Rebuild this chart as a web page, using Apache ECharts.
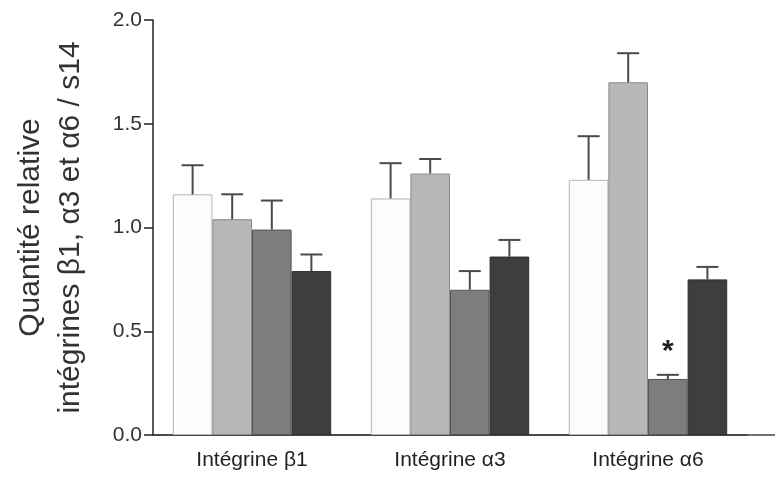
<!DOCTYPE html>
<html>
<head>
<meta charset="utf-8">
<script src="https://cdn.jsdelivr.net/npm/echarts@6/dist/echarts.min.js"></script>
<style>html,body{margin:0;padding:0;background:#fff}#c{width:775px;height:478px}</style>
</head>
<body>
<div id="c"></div>
<script>
const categories = ['Intégrine β1', 'Intégrine α3', 'Intégrine α6'];
const yTicks = [0, 0.5, 1.0, 1.5, 2.0];
// four conditions per category
const s1 = [1.16, 1.14, 1.23];
const s2 = [1.04, 1.26, 1.70];
const s3 = [0.99, 0.70, 0.27];
const s4 = [0.79, 0.86, 0.75];
// top of error bars
const e1 = [1.30, 1.31, 1.44];
const e2 = [1.16, 1.33, 1.84];
const e3 = [1.13, 0.79, 0.29];
const e4 = [0.87, 0.94, 0.81];
const significant = [[], [], [2], []]; // '*' marks

const values = [s1, s2, s3, s4];
const errs = [e1, e2, e3, e4];
const fills = ['#fcfcfc', '#b8b8b8', '#7d7d7d', '#3e3e3e'];
const borders = ['#b5b5b5', '#8a8a8a', '#555555', '#2e2e2e'];

const chart = echarts.init(document.getElementById('c'), null, {renderer: 'canvas'});
const series = [];
values.forEach((vals, s) => {
  series.push({
    type: 'bar', xAxisIndex: 0, yAxisIndex: 0,
    barGap: '0%', barCategoryGap: '20%',
    itemStyle: {color: fills[s], borderColor: borders[s], borderWidth: 1},
    data: vals.map((v, i) => significant[s].includes(i)
      ? {value: v, label: {show: true, position: 'top', distance: 12, formatter: '*', fontSize: 30, fontWeight: 'bold', color: '#222', fontFamily: 'Liberation Sans'}}
      : v),
    z: 2
  });
});
values.forEach((vals, s) => {
  series.push({
    type: 'custom', xAxisIndex: 0, yAxisIndex: 0, z: 3,
    data: vals.map((v, i) => [i, v, errs[s][i]]),
    renderItem: function (params, api) {
      const idx = api.value(0), v = api.value(1), t = api.value(2);
      const band = api.size([1, 0])[0];
      const bw = band * 0.8 / 4;
      const off = (s - 1.5) * bw;
      const p0 = api.coord([idx, v]);
      const p1 = api.coord([idx, t]);
      const x = p0[0] + off;
      const st = {stroke: '#4a4a4a', lineWidth: 2};
      return {type: 'group', children: [
        {type: 'line', shape: {x1: x, y1: p0[1], x2: x, y2: p1[1]}, style: st},
        {type: 'line', shape: {x1: x - 11, y1: p1[1], x2: x + 11, y2: p1[1]}, style: st}
      ]};
    }
  });
});
// extension of the baseline to the right edge
series.push({type: 'line', xAxisIndex: 1, yAxisIndex: 1, data: [], silent: true});

chart.setOption({
  animation: false,
  backgroundColor: '#fff',
  grid: [
    {left: 153, right: 28, top: 20, bottom: 43},
    {left: 153, right: 0, top: 20, bottom: 43}
  ],
  xAxis: [
    {type: 'category', gridIndex: 0, data: categories,
      axisLine: {lineStyle: {color: '#222', width: 1.5}},
      axisTick: {show: false},
      axisLabel: {color: '#222', fontSize: 21, margin: 15, fontFamily: 'Liberation Sans'}},
    {type: 'value', gridIndex: 1, min: 0, max: 1, show: true,
      axisLine: {show: true, onZero: false, lineStyle: {color: '#444', width: 1.5}},
      axisTick: {show: false}, axisLabel: {show: false}, splitLine: {show: false}}
  ],
  yAxis: [
    {type: 'value', gridIndex: 0, min: 0, max: 2, interval: 0.5,
      axisLine: {show: true, lineStyle: {color: '#222', width: 1.5}},
      axisTick: {show: true, length: 9, lineStyle: {color: '#222', width: 1.5}},
      axisLabel: {color: '#333', fontSize: 21, margin: 11, fontFamily: 'Liberation Sans',
        formatter: v => v.toFixed(1)},
      splitLine: {show: false},
      name: 'Quantité relative\nintégrines β1, α3 et α6 / s14',
      nameLocation: 'middle', nameRotate: 90, nameGap: 62,
      nameTextStyle: {fontSize: 30, lineHeight: 40, color: '#333', fontFamily: 'Liberation Sans'}},
    {type: 'value', gridIndex: 1, min: 0, max: 1, show: false}
  ],
  series: series
});
</script>
</body>
</html>
